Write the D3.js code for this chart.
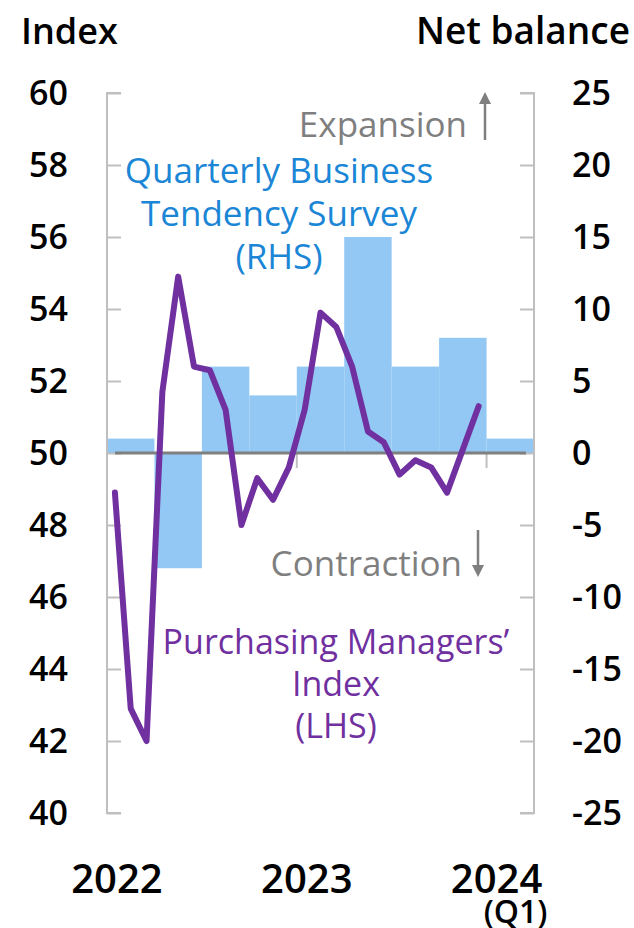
<!DOCTYPE html>
<html><head><meta charset="utf-8">
<script src="https://cdn.jsdelivr.net/npm/d3@7"></script>
<style>
body{margin:0;background:#fff;}
text{font-family:"Open Sans","Noto Sans",sans-serif;}
</style></head>
<body>
<svg id="c" width="634" height="928"></svg>
<script>
// ---- data ----
const quarters = ["2022Q1","2022Q2","2022Q3","2022Q4","2023Q1","2023Q2","2023Q3","2023Q4","2024Q1"];
const qbtsBalance = [1, -8, 6, 4, 6, 15, 6, 8, 1];
const months = ["2022-01","2022-02","2022-03","2022-04","2022-05","2022-06","2022-07","2022-08","2022-09","2022-10","2022-11","2022-12",
                "2023-01","2023-02","2023-03","2023-04","2023-05","2023-06","2023-07","2023-08","2023-09","2023-10","2023-11","2023-12"];
const pmiIndex = [48.9, 42.9, 42.0, 51.7, 54.9, 52.4, 52.3, 51.2, 48.0, 49.3, 48.7, 49.6,
                  51.2, 53.9, 53.5, 52.4, 50.6, 50.3, 49.4, 49.8, 49.6, 48.9, 50.1, 51.3];
const leftTicks = [40, 42, 44, 46, 48, 50, 52, 54, 56, 58, 60];
const rightTicks = [-25, -20, -15, -10, -5, 0, 5, 10, 15, 20, 25];
const yearLabels = [{label:"2022", m:0}, {label:"2023", m:12}, {label:"2024", m:24, sub:"(Q1)"}];

// ---- layout ----
const svg = d3.select("#c");
const L = 107, R = 534, T = 93, B = 813;
const x = d3.scaleLinear().domain([0, 27]).range([L, R]);
const yL = d3.scaleLinear().domain([40, 60]).range([B, T]);
const yR = d3.scaleLinear().domain([-25, 25]).range([B, T]);
const axisGrey = "#BFBFBF";

// bars
svg.append("g").selectAll("rect").data(qbtsBalance).join("rect")
  .attr("x", (d,i) => x(i*3))
  .attr("width", (d,i) => x(i*3+3) - x(i*3))
  .attr("y", d => yR(Math.max(0,d)))
  .attr("height", d => Math.abs(yR(d) - yR(0)))
  .attr("fill", "#92C8F3");

// left axis
const gl = svg.append("g").attr("transform", `translate(${L},0)`)
  .call(d3.axisRight(yL).tickValues(leftTicks).tickSize(14).tickFormat(""));
gl.selectAll("line, path").attr("stroke", axisGrey).attr("stroke-width", 2);
gl.select(".domain").attr("d", `M14,${T}H0V${B}H14`);
svg.append("g").selectAll("text").data(leftTicks).join("text")
  .attr("x", 68).attr("y", d => yL(d)).attr("dy", "0.36em")
  .attr("text-anchor", "end").attr("font-size", 34).attr("font-weight", 600)
  .attr("fill", "#000").text(d => d);

// right axis
const gr = svg.append("g").attr("transform", `translate(${R},0)`)
  .call(d3.axisLeft(yR).tickValues(rightTicks).tickSize(14).tickFormat(""));
gr.selectAll("line, path").attr("stroke", axisGrey).attr("stroke-width", 2);
gr.select(".domain").attr("d", `M-14,${T}H0V${B}H-14`);
svg.append("g").selectAll("text").data(rightTicks).join("text")
  .attr("x", 572).attr("y", d => yR(d)).attr("dy", "0.36em")
  .attr("text-anchor", "start").attr("font-size", 34).attr("font-weight", 600)
  .attr("fill", "#000").text(d => d);

// x ticks
svg.append("g").selectAll("line").data([12, 24]).join("line")
  .attr("x1", d => x(d)).attr("x2", d => x(d))
  .attr("y1", yR(0)).attr("y2", yR(0) + 15)
  .attr("stroke", axisGrey).attr("stroke-width", 2);

// zero line
svg.append("line").attr("x1", 115).attr("x2", 526)
  .attr("y1", yR(0)).attr("y2", yR(0))
  .attr("stroke", "#808080").attr("stroke-width", 3);

// PMI line
const line = d3.line().x((d,i) => x(i + 0.5)).y(d => yL(d));
svg.append("path").datum(pmiIndex).attr("d", line)
  .attr("fill", "none").attr("stroke", "#7030A0").attr("stroke-width", 6)
  .attr("stroke-linejoin", "round").attr("stroke-linecap", "round");

// year labels
const yl = svg.append("g").selectAll("g").data(yearLabels).join("g");
yl.append("text").attr("x", d => x(d.m) + 10).attr("y", 893)
  .attr("text-anchor", "middle").attr("font-size", 40).attr("font-weight", 600)
  .text(d => d.label);
yl.filter(d => d.sub).append("text").attr("x", d => x(d.m) + 29).attr("y", 923)
  .attr("text-anchor", "middle").attr("font-size", 32).attr("font-weight", 600)
  .text(d => d.sub);

// axis titles
svg.append("text").attr("x", 21).attr("y", 44).attr("font-size", 36).attr("font-weight", 600).text("Index");
svg.append("text").attr("x", 630).attr("y", 44).attr("text-anchor", "end").attr("font-size", 37).attr("font-weight", 600).text("Net balance");

// annotations
const grey = "#7F7F7F";
svg.append("text").attr("x", 467).attr("y", 137).attr("text-anchor", "end")
  .attr("font-size", 35).attr("font-weight", 500).attr("fill", grey).text("Expansion");
svg.append("text").attr("x", 462).attr("y", 576).attr("text-anchor", "end")
  .attr("font-size", 35).attr("font-weight", 500).attr("fill", grey).text("Contraction");
function arrow(x0, y0, y1) {
  const dir = Math.sign(y1 - y0);
  svg.append("line").attr("x1", x0).attr("x2", x0).attr("y1", y0).attr("y2", y1 - dir*10)
    .attr("stroke", grey).attr("stroke-width", 2.5);
  svg.append("path").attr("d", `M${x0-6},${y1 - dir*12}L${x0+6},${y1 - dir*12}L${x0},${y1}Z`).attr("fill", grey);
}
arrow(485, 140, 92);
arrow(478, 530, 577);

const blue = "#1B86D6";
[["Quarterly Business", 183], ["Tendency Survey", 226], ["(RHS)", 269]].forEach(([t, yy]) =>
  svg.append("text").attr("x", 279).attr("y", yy).attr("text-anchor", "middle")
    .attr("font-size", 35).attr("font-weight", 500).attr("fill", blue).text(t));
const purple = "#7030A0";
[["Purchasing Managers\u2019", 654], ["Index", 696], ["(LHS)", 738]].forEach(([t, yy]) =>
  svg.append("text").attr("x", 336).attr("y", yy).attr("text-anchor", "middle")
    .attr("font-size", 34).attr("font-weight", 500).attr("fill", purple).text(t));
</script>
</body></html>
